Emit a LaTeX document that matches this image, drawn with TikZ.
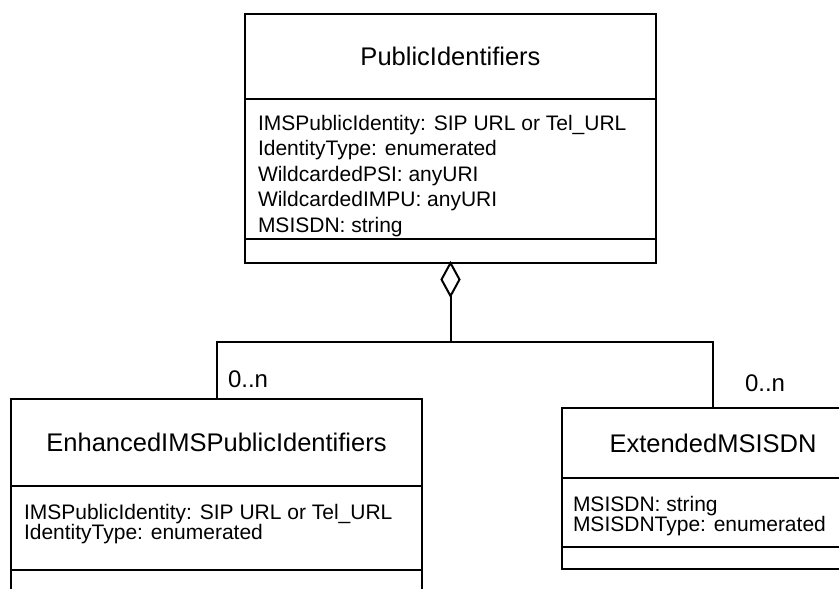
\documentclass[tikz,border=0pt]{standalone}
\usepackage{fontspec}
\setmainfont{Liberation Sans}
\usetikzlibrary{shapes.geometric,positioning}

\begin{document}
\begin{tikzpicture}
[x = 1pt, y = -1pt, line width = 2pt,
every node/.style = {inner sep = 0pt, outer sep = 0pt},
cell/.style = {draw, anchor = north, font = \fontsize{25.5}{30}\selectfont},
attrs/.style = {align = left, anchor = north west, font = \fontsize{21}{#1}\selectfont},
attrs/.default = 20.5,
mult/.style = {anchor = base west, font = \fontsize{24}{29}\selectfont},
agg/.style = {draw, diamond, anchor = north, minimum width = 18pt, minimum height = 33pt}]

\useasboundingbox (0,0) rectangle (839,589);

\node[cell, anchor = north west, minimum width = 411pt, minimum height = 85pt] (pub) at (245,14) {PublicIdentifiers};
\node[cell, below = 0pt of pub, minimum width = 411pt, minimum height = 140pt] (pubattr) {};
\node[cell, below = 0pt of pubattr, minimum width = 411pt, minimum height = 24pt] (pubops) {};
\node[attrs = 25.5] (pubtxt) at ([xshift = 13pt, yshift = -16pt]pubattr.north west)
{IMSPublicIdentity: SIP URL or Tel\_URL\\IdentityType: enumerated\\WildcardedPSI: anyURI\\WildcardedIMPU: anyURI\\MSISDN: string};

\node[cell, anchor = north west, minimum width = 411pt, minimum height = 87pt] (enh) at (11,399) {EnhancedIMSPublicIdentifiers};
\node[cell, below = 0pt of enh, minimum width = 411pt, minimum height = 84pt] (enhattr) {};
\node[cell, below = 0pt of enhattr, minimum width = 411pt, minimum height = 24pt] (enhops) {};
\node[attrs] (enhtxt) at ([xshift = 13pt, yshift = -18pt]enhattr.north west)
{IMSPublicIdentity: SIP URL or Tel\_URL\\IdentityType: enumerated};

\node[cell, anchor = north west, minimum width = 302pt, minimum height = 70pt] (ext) at (562,408) {ExtendedMSISDN};
\node[cell, below = 0pt of ext, minimum width = 302pt, minimum height = 69pt] (extattr) {};
\node[cell, below = 0pt of extattr, minimum width = 302pt, minimum height = 22pt] (extops) {};
\node[attrs] (exttxt) at ([xshift = 11pt, yshift = -18pt]extattr.north west)
{MSISDN: string\\MSISDNType: enumerated};

\node[agg] (aggr) at (pubops.south) {};
\draw (aggr.south) -- ++(0,46) coordinate (fork);
\draw (enh.north) |- (fork) -| (ext.north);

\node[mult] (enhmult) at (228,387) {0..n};
\node[mult] (extmult) at (745,391) {0..n};

\end{tikzpicture}
\end{document}
